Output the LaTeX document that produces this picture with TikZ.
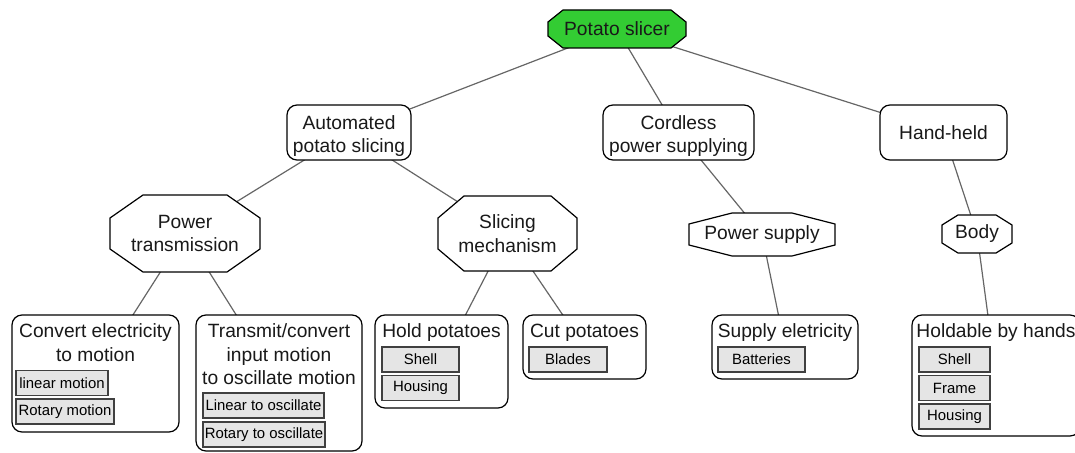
\documentclass[tikz,border=0pt]{standalone}
\usepackage{fontspec}
\setmainfont{Liberation Sans}
\usetikzlibrary{positioning}

\definecolor{slicergreen}{RGB}{51,204,51}

\pgfdeclarelayer{edges}
\pgfsetlayers{edges,main}

% octagon with its own corner cut: [fill]{cx}{cy}{width}{height}{cut x}{cut y}
\newcommand{\octagon}[7][white]{%
    \draw[line width=1.2pt, fill=#1]
        (#2-#4/2+#6, #3-#5/2) -- (#2+#4/2-#6, #3-#5/2) -- (#2+#4/2, #3-#5/2+#7) --
        (#2+#4/2, #3+#5/2-#7) -- (#2+#4/2-#6, #3+#5/2) -- (#2-#4/2+#6, #3+#5/2) --
        (#2-#4/2, #3+#5/2-#7) -- (#2-#4/2, #3-#5/2+#7) -- cycle;}

\begin{document}
\begin{tikzpicture}[x=1pt, y=-1pt]
    \useasboundingbox (0,0) rectangle (1075,452);
    \tikzstyle{big} = [font=\fontsize{19.2}{23.5}\selectfont, align=center, text=black!90]
    \tikzstyle{func} = [draw, fill=white, rounded corners=10pt, line width=1.2pt, inner sep=0pt]
    \tikzstyle{octo} = [big, inner sep=0pt]
    \tikzstyle{leaf} = [draw, fill=white, rounded corners=10pt, line width=1.2pt, inner sep=0pt]
    \tikzstyle{ttl} = [big, inner sep=0pt]
    \tikzstyle{part} = [draw=black!75, fill=black!10, line width=1.2pt,
        font=\fontsize{14.9}{17}\selectfont, minimum height=25pt, inner sep=0pt]
    \tikzstyle{conn} = [draw, black!60, line width=1.2pt]

    % top goal
    \octagon[slicergreen]{617}{29}{138}{38}{15}{12}
    \node[octo, minimum width=138pt, minimum height=38pt] at (617,29) (root) {Potato slicer};

    % functions
    \node[func, minimum width=124pt, minimum height=55pt] at (349,132.5) (auto) {};
    \node[ttl, yshift=-3.5pt] at (auto.center) (auto-t) {Automated\\potato slicing};
    \node[func, minimum width=151pt, minimum height=55pt] at (678.5,132.5) (cord) {};
    \node[ttl, yshift=-3.5pt] at (cord.center) (cord-t) {Cordless\\power supplying};
    \node[func, minimum width=127pt, minimum height=55pt] at (943.5,132.5) (hand) {};
    \node[ttl] at (hand.center) (hand-t) {Hand-held};

    % sub-systems
    \octagon{185}{233.5}{150}{77}{33}{23}
    \node[octo, minimum width=150pt, minimum height=77pt] at (185,233.5) (ptrans) {Power\\transmission};
    \octagon{507.5}{233.5}{139}{75}{26}{22}
    \node[octo, minimum width=139pt, minimum height=75pt] at (507.5,233.5) (slicing) {Slicing\\mechanism};
    \octagon{762}{234.5}{146}{43}{43}{11}
    \node[octo, minimum width=146pt, minimum height=43pt] at (762,234.5) (psupply) {Power supply};
    \octagon{977}{234}{70}{38}{16}{10}
    \node[octo, minimum width=70pt, minimum height=38pt] at (977,234) (body) {Body};

    % leaf functions with their parts
    \node[leaf, minimum width=167pt, minimum height=117pt] at (95.5,373.5) (conv) {};
    \node[ttl, below=9pt of conv.north] (conv-t) {Convert electricity\\to motion};
    \node[part, minimum width=92pt] at (62,383) (linmot) {linear motion};
    \node[part, minimum width=98pt] at (65,411.5) (rotmot) {Rotary motion};

    \node[leaf, minimum width=166pt, minimum height=136pt] at (279,383) (trans) {};
    \node[ttl, below=9pt of trans.north] (trans-t) {Transmit/convert\\input motion\\to oscillate motion};
    \node[part, minimum width=121pt] at (263.5,405.5) (linosc) {Linear to oscillate};
    \node[part, minimum width=122pt] at (264,434.5) (rotosc) {Rotary to oscillate};

    \node[leaf, minimum width=133pt, minimum height=93pt] at (441.5,361.5) (hold) {};
    \node[ttl, below=9pt of hold.north] (hold-t) {Hold potatoes};
    \node[part, minimum width=77pt] at (420.5,359.5) (shell1) {Shell};
    \node[part, minimum width=77pt] at (420.5,388) (housing1) {Housing};

    \node[leaf, minimum width=123pt, minimum height=64pt] at (584.5,347) (cut) {};
    \node[ttl, below=9pt of cut.north] (cut-t) {Cut potatoes};
    \node[part, minimum width=78pt] at (568,359.5) (blades) {Blades};

    \node[leaf, minimum width=146pt, minimum height=64pt] at (785,347) (supel) {};
    \node[ttl, below=9pt of supel.north] (supel-t) {Supply eletricity};
    \node[part, minimum width=87pt] at (761.5,359.5) (batt) {Batteries};

    \node[leaf, minimum width=168pt, minimum height=121pt] at (996,375.5) (holdable) {};
    \node[ttl, below=9pt of holdable.north] (holdable-t) {Holdable by hands};
    \node[part, minimum width=71pt] at (954.5,359.5) (shell2) {Shell};
    \node[part, minimum width=71pt] at (954.5,388) (frame) {Frame};
    \node[part, minimum width=71pt] at (954.5,416.5) (housing2) {Housing};

    % tree edges, centre to centre, hidden under the filled shapes
    \begin{pgfonlayer}{edges}
    \path[conn] (root.center) -- (auto.center);
    \path[conn] (root.center) -- (cord.center);
    \path[conn] (root.center) -- (hand.center);
    \path[conn] (auto.center) -- (ptrans.center);
    \path[conn] (auto.center) -- (slicing.center);
    \path[conn] (cord.center) -- (psupply.center);
    \path[conn] (hand.center) -- (body.center);
    \path[conn] (ptrans.center) -- (conv.center);
    \path[conn] (ptrans.center) -- (trans.center);
    \path[conn] (slicing.center) -- (hold.center);
    \path[conn] (slicing.center) -- (cut.center);
    \path[conn] (psupply.center) -- (supel.center);
    \path[conn] (body.center) -- (holdable.center);
    \end{pgfonlayer}
\end{tikzpicture}
\end{document}
